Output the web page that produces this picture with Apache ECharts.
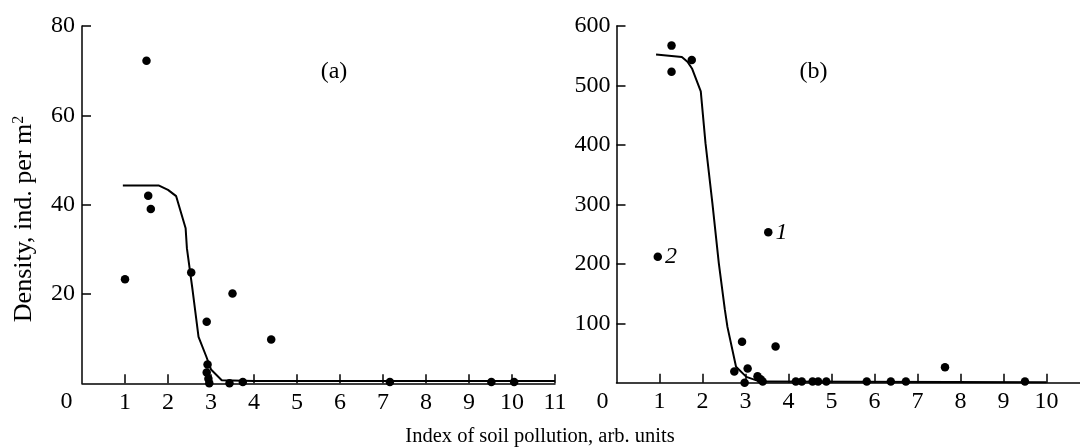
<!DOCTYPE html>
<html>
<head>
<meta charset="utf-8">
<script src="https://cdn.jsdelivr.net/npm/echarts@6/dist/echarts.min.js"></script>
<style>html,body{margin:0;padding:0;background:#fff}#c{width:1080px;height:448px}</style>
</head>
<body>
<div id="c"></div>
<script>
// Panel (a) data
const scatterAX = [1.0, 1.5, 1.54, 1.6, 2.54, 2.9, 3.5, 4.4, 2.92, 2.9, 2.94, 2.96, 3.43, 3.74, 7.16, 9.52, 10.05];
const scatterAY = [23.3, 72.2, 42, 39, 24.8, 13.8, 20.1, 9.8, 4.2, 2.4, 1.0, 0, 0, 0.3, 0.3, 0.3, 0.3];
const curveAX = [0.95, 1.78, 2.0, 2.19, 2.41, 2.44, 2.57, 2.71, 2.89, 3.0, 3.25, 4.0, 11];
const curveAY = [44.3, 44.3, 43.3, 41.9, 34.7, 30.2, 21, 10.4, 6.0, 3.1, 0.7, 0.5, 0.5];
// Panel (b) data
const scatterBX = [1.28, 1.28, 1.75, 0.96, 3.53, 2.74, 2.92, 3.05, 2.98, 3.28, 3.35, 3.40, 3.70, 4.17, 4.31, 4.56, 4.69, 4.88, 5.82, 6.38, 6.73, 7.64, 9.50];
const scatterBY = [567, 523, 543, 212, 253, 19, 69, 24, 0, 11, 6, 2, 61, 2, 2, 2, 2, 2, 2, 2, 2, 26, 2];
const scatterBLabels = ['', '', '', '2', '1', '', '', '', '', '', '', '', '', '', '', '', '', '', '', '', '', '', ''];
const curveBX = [0.92, 1.52, 1.65, 1.76, 1.96, 2.07, 2.23, 2.38, 2.52, 2.58, 2.78, 3.02, 3.34, 10];
const curveBY = [552, 548, 540, 528, 490, 403, 302, 201, 123, 94, 27, 10, 2, 1];
// Tick values
const xTicksA = [1, 2, 3, 4, 5, 6, 7, 8, 9, 10, 11];
const yTicksA = [20, 40, 60, 80];
const xTicksB = [1, 2, 3, 4, 5, 6, 7, 8, 9, 10];
const yTicksB = [100, 200, 300, 400, 500, 600];
const xRangeA = [0, 11];
const yRangeA = [0, 80];
const xRangeB = [0, 10.78];
const yRangeB = [0, 600];
const xTitle = 'Index of soil pollution, arb. units';
const yTitle = 'Density, ind. per m{sup|2}';

const FF = '"Liberation Serif", "DejaVu Serif", serif';
const FS = 24;
const zip = (a, b) => a.map((v, i) => [v, b[i]]);

function axisCfg(idx, range, ticks, margin) {
  return {
    type: 'value', gridIndex: idx, min: range[0], max: range[1],
    axisLine: {show: true, lineStyle: {color: '#000', width: 1.5}},
    axisTick: {show: true, inside: true, length: 9, customValues: ticks, lineStyle: {color: '#000', width: 1.5}},
    splitLine: {show: false},
    axisLabel: {color: '#000', fontFamily: FF, fontSize: FS, margin: margin, customValues: ticks}
  };
}

const chart = echarts.init(document.getElementById('c'), null, {renderer: 'canvas'});
const textEl = (t, x, y, extra) => ({
  type: 'text', x: x, y: y,
  style: Object.assign({text: t, fill: '#000', font: FS + 'px ' + FF, align: 'center', verticalAlign: 'middle'}, extra || {})
});

chart.setOption({
  animation: false,
  backgroundColor: '#fff',
  grid: [
    {left: 82, top: 26, width: 473, height: 357.3, containLabel: false},
    {left: 616.5, top: 26, width: 463.5, height: 356.8, containLabel: false}
  ],
  xAxis: [axisCfg(0, xRangeA, xTicksA, 7), axisCfg(1, xRangeB, xTicksB, 7)],
  yAxis: [axisCfg(0, yRangeA, yTicksA, 7), axisCfg(1, yRangeB, yTicksB, 6)],
  series: [
    {type: 'line', xAxisIndex: 0, yAxisIndex: 0, data: zip(curveAX, curveAY), showSymbol: false,
     lineStyle: {color: '#000', width: 2}, z: 2},
    {type: 'scatter', xAxisIndex: 0, yAxisIndex: 0, data: zip(scatterAX, scatterAY), symbolSize: 8.5,
     itemStyle: {color: '#000', opacity: 1}, z: 3},
    {type: 'line', xAxisIndex: 1, yAxisIndex: 1, data: zip(curveBX, curveBY), showSymbol: false,
     lineStyle: {color: '#000', width: 2}, z: 2},
    {type: 'scatter', xAxisIndex: 1, yAxisIndex: 1, symbolSize: 8.5, itemStyle: {color: '#000', opacity: 1}, z: 3,
     data: scatterBX.map((x, i) => ({
       value: [x, scatterBY[i]],
       label: {show: scatterBLabels[i] !== '', formatter: scatterBLabels[i], position: 'right', distance: 3,
               color: '#000', fontFamily: FF, fontSize: FS, fontStyle: 'italic'}
     }))}
  ],
  graphic: [
    textEl('(a)', 334, 72),
    textEl('(b)', 813.5, 72),
    textEl('0', 72.5, 402, {align: 'right'}),
    textEl('0', 608.5, 402, {align: 'right'}),
    textEl(xTitle, 540, 437, {font: '20.5px ' + FF}),
    {type: 'text', x: 24, y: 219, rotation: Math.PI / 2,
     style: {text: yTitle, fill: '#000', font: '26px ' + FF, align: 'center', verticalAlign: 'middle',
             rich: {sup: {fontSize: 16, fontFamily: FF, fill: '#000', verticalAlign: 'top', padding: [0, 0, 10, 0]}}}}
  ]
});
</script>
</body>
</html>
